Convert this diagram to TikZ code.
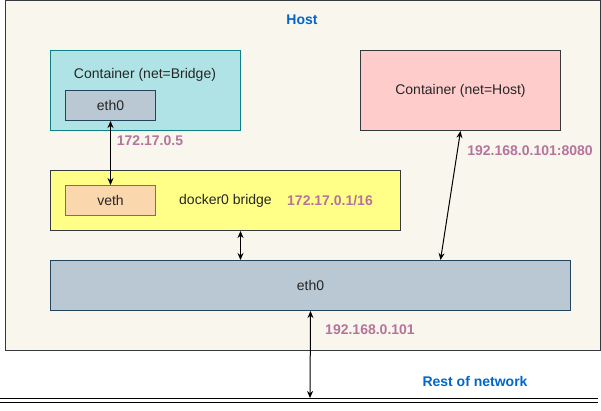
\documentclass[tikz,border=0pt]{standalone}
\usepackage{fontspec}
\setmainfont{Liberation Sans}
\usetikzlibrary{positioning,arrows.meta}
\definecolor{hostfill}{HTML}{F9F7ED}
\definecolor{darkline}{HTML}{36393D}
\definecolor{tealfill}{HTML}{B0E3E6}
\definecolor{tealline}{HTML}{0E8088}
\definecolor{ethfill}{HTML}{BAC8D3}
\definecolor{ethline}{HTML}{23445D}
\definecolor{vethfill}{HTML}{FAD7AC}
\definecolor{vethline}{HTML}{B46504}
\definecolor{yellowfill}{HTML}{FFFF88}
\definecolor{pinkfill}{HTML}{FFCCCC}
\definecolor{ipcolor}{HTML}{B5739D}
\definecolor{netblue}{HTML}{0066CC}

\begin{document}
\begin{tikzpicture}[x=1pt,y=-1pt,
	box/.style={draw=darkline,line width=1pt,inner sep=0pt,anchor=north west,text=black!85,font=\fontsize{14}{16}\selectfont},
	iplabel/.style={text=ipcolor,font=\fontsize{14}{16}\selectfont\bfseries},
	bluelabel/.style={text=netblue,font=\fontsize{14}{16}\selectfont\bfseries},
	link/.style={{Stealth[length=7pt,width=6pt]}-{Stealth[length=7pt,width=6pt]},line width=1pt}]
		\useasboundingbox (0,0) rectangle (601,410);
		\node[box,fill=hostfill,minimum width=595,minimum height=350] (host) at (5,0) {};
		\node[bluelabel] (hostlbl) at (302,20) {Host};
		
		\node[box,draw=tealline,fill=tealfill,minimum width=190,minimum height=80] (cbridge) at (50,50) {};
		\node[box,anchor=center,draw=none] (cbridgetitle) at (145,75) {Container (net=Bridge)};
		\node[box,draw=ethline,fill=ethfill,minimum width=90,minimum height=30] (eth0c) at (65,90) {eth0};
		
		\node[box,fill=yellowfill,minimum width=350,minimum height=60] (bridge) at (50,170) {docker0 bridge};
		\node[box,draw=vethline,fill=vethfill,minimum width=90,minimum height=30] (veth) at (65,185) {veth};
		\node[iplabel] (bridgeip) at (330,201) {172.17.0.1/16};
		
		\node[box,fill=pinkfill,minimum width=200,minimum height=80] (chost) at (360,50) {Container (net=Host)};
		\node[box,draw=ethline,fill=ethfill,minimum width=520,minimum height=50] (eth0h) at (50,260) {eth0};
		
		\node[iplabel] (cip) at (150,141) {172.17.0.5};
		\node[iplabel] (hostport) at (530,151) {192.168.0.101:8080};
		\node[iplabel] (hostip) at (370,330) {192.168.0.101};
		\node[bluelabel] (restlbl) at (475,381) {Rest of network};
		
		\coordinate (netL) at (0,400);
		\coordinate (netR) at (598,400);
		\coordinate (net) at (310,398);
		\draw[line width=1pt,double,double distance=3pt] (netL) -- (netR);
		
		\draw[link] (eth0c.south) -- (veth.north);
		\draw[link] ([xshift=15]bridge.south) -- ([xshift=15]bridge.south |- eth0h.north);
		\draw[link] (chost.south) -- ([xshift=130]eth0h.north);
		\draw[link] (eth0h.south) -- (net);
	\end{tikzpicture}
\end{document}
